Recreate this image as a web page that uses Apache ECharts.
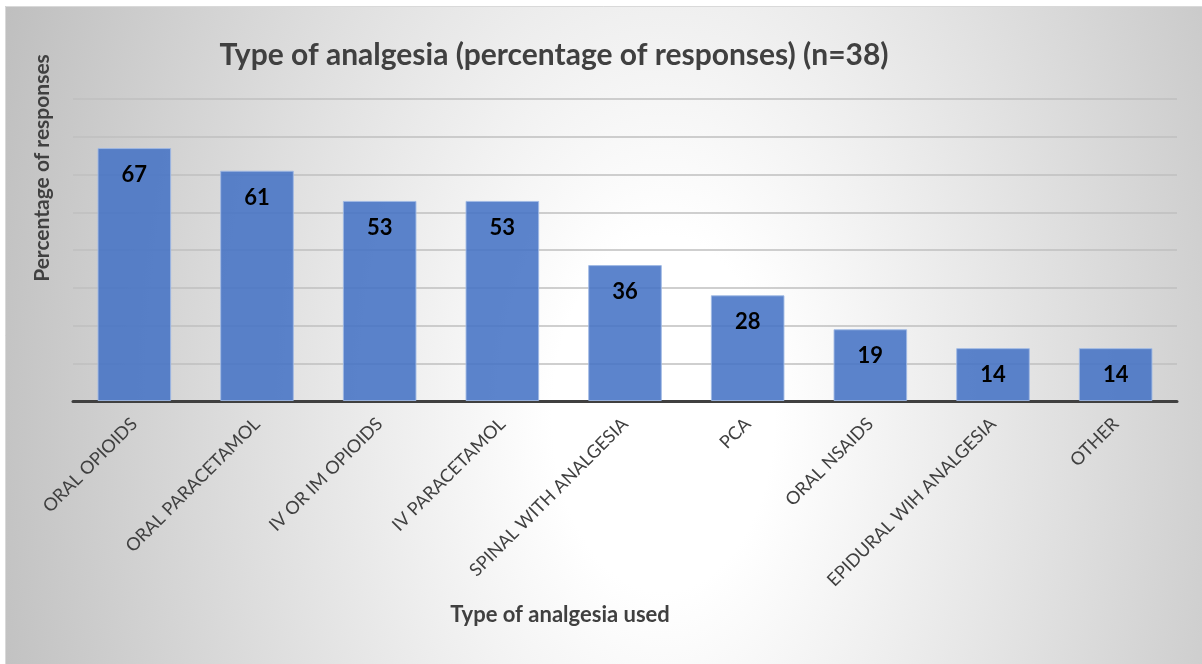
<!DOCTYPE html>
<html>
<head>
<meta charset="utf-8">
<style>
  html, body { margin: 0; padding: 0; background: #ffffff; }
  #chart { width: 1202px; height: 664px; }
</style>
<script src="https://cdn.jsdelivr.net/npm/echarts@6/dist/echarts.min.js"></script>
</head>
<body>
<div id="chart"></div>
<script>
// Survey results: share of respondents using each type of analgesia
const categories = [
  'ORAL OPIOIDS',
  'ORAL PARACETAMOL',
  'IV OR IM OPIOIDS',
  'IV PARACETAMOL',
  'SPINAL WITH ANALGESIA',
  'PCA',
  'ORAL NSAIDS',
  'EPIDURAL WIH ANALGESIA',
  'OTHER'
];
const percentages = [67, 61, 53, 53, 36, 28, 19, 14, 14];

const titleText = 'Type of analgesia (percentage of responses) (n=38)';
const xAxisTitle = 'Type of analgesia used';
const yAxisTitle = 'Percentage of responses';

const FONT = 'Lato, "Open Sans", sans-serif';
const W = 1202, H = 664;
const frameX = 5, frameY = 6;
const frameW = W - frameX, frameH = H - frameY;
// stretch the background square vertically so the radial fade is an ellipse
const stretchY = 1.6;

const chart = echarts.init(document.getElementById('chart'), null, { renderer: 'canvas' });

chart.setOption({
  animation: false,
  backgroundColor: '#ffffff',
  graphic: [
    {
      type: 'rect',
      z: -10,
      silent: true,
      x: frameX,
      y: frameY,
      scaleY: stretchY,
      shape: { x: 0, y: 0, width: frameW, height: frameH / stretchY },
      style: {
        fill: {
          type: 'radial',
          x: 0.55, y: 0.62, r: 1.8,
          colorStops: [
            { offset: 0, color: '#ffffff' },
            { offset: 0.15, color: '#ffffff' },
            { offset: 1, color: '#bbbbbb' }
          ]
        }
      }
    },
    {
      type: 'polyline',
      z: -9,
      silent: true,
      shape: { points: [[frameX + 0.5, H], [frameX + 0.5, frameY + 0.5], [W, frameY + 0.5]] },
      style: { stroke: '#d9d9d9', lineWidth: 1, fill: null }
    },
    {
      type: 'text',
      x: 42,
      y: 168,
      rotation: Math.PI / 2,
      style: {
        text: yAxisTitle,
        font: 'bold 21px ' + FONT,
        fill: '#404040',
        align: 'center',
        verticalAlign: 'middle'
      }
    },
    {
      type: 'text',
      x: 560,
      y: 615,
      style: {
        text: xAxisTitle,
        font: 'bold 22px ' + FONT,
        fill: '#404040',
        align: 'center',
        verticalAlign: 'middle'
      }
    },
    {
      type: 'text',
      x: 554,
      y: 55,
      style: {
        text: titleText,
        font: 'bold 30px ' + FONT,
        fill: '#404040',
        align: 'center',
        verticalAlign: 'middle'
      }
    }
  ],
  grid: {
    left: 73,
    right: 25,
    top: 99,
    bottom: 263,
    containLabel: false
  },
  xAxis: {
    type: 'category',
    data: categories,
    axisLine: { show: true, lineStyle: { color: '#404040', width: 3 } },
    axisTick: { show: false },
    axisLabel: {
      rotate: 45,
      interval: 0,
      margin: 20,
      fontFamily: FONT,
      fontSize: 18,
      color: '#404040'
    }
  },
  yAxis: {
    type: 'value',
    min: 0,
    max: 80,
    interval: 10,
    axisLine: { show: false },
    axisTick: { show: false },
    axisLabel: { show: false },
    splitLine: { show: true, lineStyle: { color: '#bfbfbf', width: 1.5 } }
  },
  series: [
    {
      type: 'bar',
      data: percentages,
      barWidth: '60%',
      itemStyle: {
        color: 'rgba(68, 114, 196, 0.87)',
        borderColor: 'rgba(160, 185, 228, 0.9)',
        borderWidth: 1
      },
      label: {
        show: true,
        position: 'insideTop',
        distance: 16,
        fontFamily: FONT,
        fontWeight: 'bold',
        fontSize: 22,
        color: '#000000'
      }
    }
  ]
});
</script>
</body>
</html>
